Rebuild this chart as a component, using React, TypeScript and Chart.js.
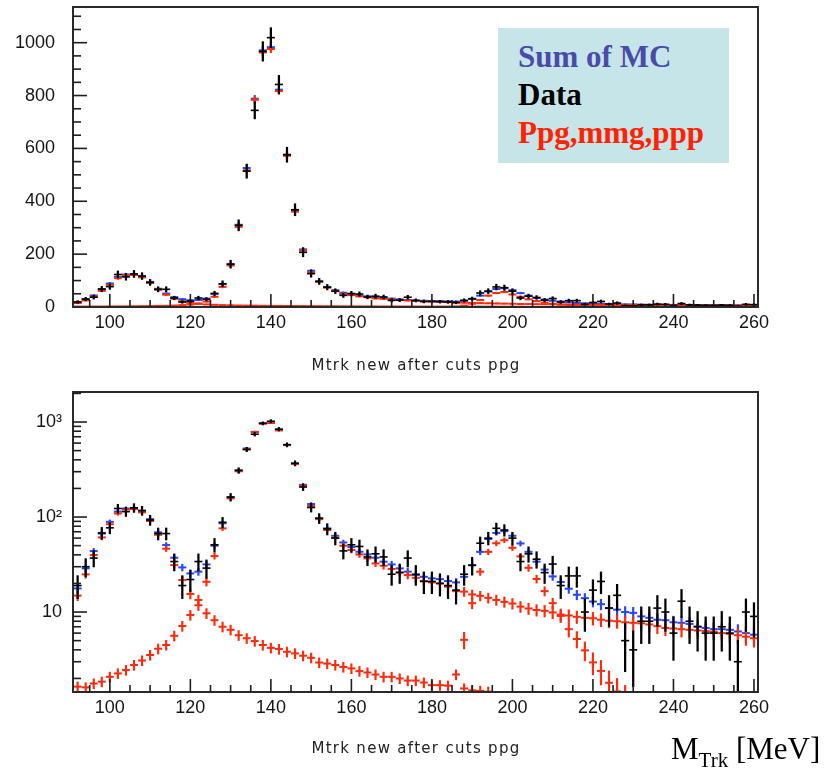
import React, { useEffect, useRef } from "react";
import { Chart, registerables } from "chart.js";

Chart.register(...registerables);

// Bin centres of the track-mass histograms (2 MeV bins, 91–261 MeV)
const binCenters = [
  92, 94, 96, 98, 100, 102, 104, 106, 108, 110, 112, 114, 116, 118, 120, 122, 124, 126, 128, 130,
  132, 134, 136, 138, 140, 142, 144, 146, 148, 150, 152, 154, 156, 158, 160, 162, 164, 166, 168, 170,
  172, 174, 176, 178, 180, 182, 184, 186, 188, 190, 192, 194, 196, 198, 200, 202, 204, 206, 208, 210,
  212, 214, 216, 218, 220, 222, 224, 226, 228, 230, 232, 234, 236, 238, 240, 242, 244, 246, 248, 250,
  252, 254, 256, 258, 260,
];

// Data (black)
const dataCounts = [
  19, 30, 37, 68, 77, 123, 114, 125, 117, 93, 67, 67, 34, 19, 22, 34, 29, 51, 88, 162,
  309, 514, 744, 967, 1019, 842, 576, 368, 207, 126, 97, 75, 60, 44, 51, 49, 38, 41, 38, 25,
  26, 37, 25, 21, 21, 20, 19, 17, 25, 31, 53, 60, 76, 73, 60, 34, 41, 36, 26, 32,
  19, 24, 24, 10, 17, 21, 11, 15, 5, 4, 8, 8, 11, 10, 6, 13, 8, 7, 6, 6,
  7, 6, 3, 10, 9,
];

// Sum of MC (blue)
const sumMC = [
  17.7, 28.8, 43.8, 67, 89, 114, 123, 123, 116, 95, 69, 50.7, 37.3, 29.5, 25.5, 26.6, 31.7, 50, 86, 162,
  311, 526, 788, 971, 983, 822, 576, 366, 218, 137, 97, 76, 63.5, 54, 48.3, 43.1, 40.4, 37.3, 33.9, 31.7,
  28.8, 26.6, 24.5, 23.5, 22.6, 22.2, 21.2, 20.5, 23.5, 31.2, 43, 58.7, 68, 71, 63.5, 52.7, 43, 33.9, 28, 23.7,
  20.7, 17.6, 15.2, 14.0, 12.9, 12.1, 11.0, 10.6, 10.0, 9.8, 9.0, 8.7, 8.3, 8.2, 7.8, 7.7, 7.5, 7.05, 6.8, 6.6,
  6.6, 6.5, 6.25, 6.0, 5.77,
];

// Ppg / mmg / ppp components (red)
const mcMain = [
  14.9, 24.9, 39.8, 61, 84, 109, 120, 121, 112, 91, 65, 46.4, 31.2, 21.7, 15.5, 13.4, 20.8, 38.8, 76, 157,
  303, 517, 784, 963, 976, 817, 572, 361, 214, 131, 95, 73, 60.6, 49.9, 45, 40.4, 36.7, 32.5, 30.7, 28.4,
  26.2, 24.5, 22.9, 21.2, 20.5, 20, 18.5, 16.6, 16.4, 15.3, 14.8, 14.1, 13.4, 12.8, 12.3, 11.4, 10.9, 10.5, 10.3, 9.9,
  9.4, 9.2, 8.9, 8.7, 8.6, 8.3, 8.1, 8.0, 7.8, 7.7, 7.6, 7.4, 7.1, 6.8, 6.7, 6.6, 6.5, 6.4, 6.3, 6.2,
  6.0, 5.9, 5.7, 5.5, 5.3,
];

const mcTail = [
  1.64, 1.61, 1.77, 1.85, 2.08, 2.26, 2.45, 2.77, 3.09, 3.53, 4.11, 4.5, 5.63, 7.12, 9.3, 11.8, 9.7, 8.2, 7.0, 6.5,
  5.7, 5.3, 4.95, 4.5, 4.2, 4.08, 3.82, 3.67, 3.47, 3.3, 2.94, 2.87, 2.77, 2.64, 2.55, 2.39, 2.31, 2.2, 2.08, 2.08,
  2.0, 1.9, 1.9, 1.81, 1.7, 1.7, 1.68, 2.2, 1.57, 1.5, 1.48, 1.45, 1.3, 1.2, 1.15, 1.1, null, null, null, null,
  null, null, null, null, null, null, null, null, null, null, null, null, null, null, null, null, null, null, null, null,
  null, null, null, null, null,
];

const mcBump = [
  null, null, null, null, null, null, null, null, null, null, null, null, null, null, null, null, null, null, null, null,
  null, null, null, null, null, null, null, null, null, null, null, null, null, null, null, null, null, null, null, null,
  null, null, null, null, null, null, null, null, 5.1, 12.4, 26.6, 43, 53, 57, 47.4, 38.5, 29.2, 22.3, 16.6, 12.4,
  9.1, 6.6, 5.2, 3.95, 2.95, 2.4, 1.8, 1.46, 1.2, 1.0, null, null, null, null, null, null, null, null, null, null,
  null, null, null, null, null,
];

const xLabelTicks = [100, 120, 140, 160, 180, 200, 220, 240, 260];
const linTickLabels = [0, 200, 400, 600, 800, 1000];
const logTickLabels = [10, 100, 1000];

const X_MIN = 90.85;
const X_MAX = 261;
const LIN_MAX = 1135;
const LOG_MIN = 1.44;
const LOG_MAX = 2070;
const HALF_BIN_PX = 4;

// Plot-frame geometry shared by the canvases and the tick overlay
const CANVAS_H = 345;
const AREA_LEFT = 73;
const AREA_RIGHT = 758;
const TOP_PANEL = { canvasTop: 0, areaTop: 7, axisHeight: 38 };
const LOG_PANEL = { canvasTop: 380, areaTop: 12, axisHeight: 33 };

const BLUE = "#2447ff";
const RED = "#ff2a0c";
const BLACK = "#000000";

type Val = number | null;

function crosses(values: Val[], err: (v: number) => number, color: string, order: number, vWidth: number, hWidth: number) {
  const bars: any[] = [];
  const pts: any[] = [];
  values.forEach((v, i) => {
    if (v == null) return;
    const e = err(v);
    bars.push({ x: binCenters[i], y: [Math.max(v - e, 0.05), v + e] });
    pts.push({ x: binCenters[i], y: v });
  });
  return [
    {
      type: "bar",
      data: bars,
      backgroundColor: color,
      borderWidth: 0,
      barThickness: vWidth,
      grouped: false,
      order,
    },
    {
      type: "line",
      data: pts,
      showLine: false,
      pointStyle: "line",
      pointRadius: HALF_BIN_PX,
      pointHoverRadius: HALF_BIN_PX,
      pointBorderColor: color,
      pointBackgroundColor: color,
      pointBorderWidth: hWidth,
      order,
    },
  ];
}

const dataErr = (v: number) => Math.sqrt(1.4 * v);
const mcErr = (v: number) => Math.sqrt(0.2 * v);
const tailErr = (v: number) => 0.12 * v;

// Tick positions for the inward ROOT-style tick marks
function xTickMarks() {
  const out: { v: number; len: number }[] = [];
  for (let t = 95; t <= 260; t += 5) out.push({ v: t, len: t % 20 === 0 ? 13 : 7 });
  return out;
}
function yTickMarks(isLog: boolean) {
  const out: { v: number; len: number }[] = [];
  if (isLog) {
    [1, 10, 100, 1000].forEach((dec) => {
      for (let m = 1; m <= 9; m++) out.push({ v: m * dec, len: m === 1 ? 14 : 8 });
    });
  } else {
    for (let v = 0; v <= 1100; v += 50) out.push({ v, len: v % 200 === 0 ? 14 : 8 });
  }
  return out;
}

const framePlugin = {
  id: "rootFrame",
  afterDraw(chart: any) {
    const ctx: CanvasRenderingContext2D = chart.ctx;
    const a = chart.chartArea;
    ctx.save();
    ctx.lineWidth = 2;
    ctx.strokeStyle = "#2a2a2a";
    ctx.strokeRect(a.left, a.top, a.right - a.left, a.bottom - a.top);
    ctx.restore();
  },
};

function makeConfig(log: boolean, areaTop: number, axisHeight: number) {
  const datasets = [
    ...crosses(sumMC, mcErr, BLUE, 3, 1.5, 2),
    ...crosses(mcMain, mcErr, RED, 2, 1.5, 2),
    ...crosses(mcTail, tailErr, RED, 2, 1.5, 2),
    ...crosses(mcBump, mcErr, RED, 2, 1.5, 2),
    ...crosses(dataCounts, dataErr, BLACK, 1, 1.6, 1.6),
  ];
  const tickFont = { family: "'Liberation Sans', Arial, sans-serif", size: 18 };
  const noPad = (s: any) => {
    s.paddingTop = 0;
    s.paddingBottom = 0;
    s.paddingLeft = 0;
    s.paddingRight = 0;
  };
  return {
    type: "bar",
    data: { datasets },
    plugins: [framePlugin],
    options: {
      animation: false,
      responsive: false,
      events: [],
      layout: { padding: { top: areaTop, right: 827 - AREA_RIGHT, left: 0, bottom: 0 } },
      plugins: {
        legend: { display: false },
        tooltip: { enabled: false },
      },
      scales: {
        x: {
          type: "linear",
          min: X_MIN,
          max: X_MAX,
          offset: false,
          grid: { display: false, drawTicks: false },
          border: { display: false },
          ticks: {
            font: tickFont,
            color: "#151515",
            padding: 5,
            maxRotation: 0,
            autoSkip: false,
            callback: (v: number) => String(v),
          },
          afterBuildTicks: (s: any) => {
            s.ticks = xLabelTicks.map((v) => ({ value: v }));
          },
          afterFit: (s: any) => {
            s.height = axisHeight;
            noPad(s);
          },
        },
        y: log
          ? {
              type: "logarithmic",
              min: LOG_MIN,
              max: LOG_MAX,
              grid: { display: false, drawTicks: false },
              border: { display: false },
              ticks: {
                font: tickFont,
                color: "#151515",
                padding: 11,
                autoSkip: false,
                callback: (v: number) => (v === 1000 ? "10³" : v === 100 ? "10²" : "10"),
              },
              afterBuildTicks: (s: any) => {
                s.ticks = logTickLabels.map((v) => ({ value: v }));
              },
              afterFit: (s: any) => {
                s.width = AREA_LEFT;
                noPad(s);
              },
            }
          : {
              type: "linear",
              min: 0,
              max: LIN_MAX,
              grid: { display: false, drawTicks: false },
              border: { display: false },
              ticks: {
                font: tickFont,
                color: "#151515",
                padding: 18,
                autoSkip: false,
                callback: (v: number) => String(v),
              },
              afterBuildTicks: (s: any) => {
                s.ticks = linTickLabels.map((v) => ({ value: v }));
              },
              afterFit: (s: any) => {
                s.width = AREA_LEFT;
                noPad(s);
              },
            },
      },
    },
  };
}

function HistPanel({ top, log, areaTop, axisHeight }: { top: number; log: boolean; areaTop: number; axisHeight: number }) {
  const ref = useRef<HTMLCanvasElement | null>(null);
  useEffect(() => {
    if (!ref.current) return;
    const chart = new Chart(ref.current, makeConfig(log, areaTop, axisHeight) as any);
    return () => chart.destroy();
  }, [log, areaTop, axisHeight]);
  return (
    <canvas
      ref={ref}
      width={827}
      height={CANVAS_H}
      style={{ position: "absolute", left: 0, top, width: 827, height: CANVAS_H }}
    />
  );
}

// Inward tick marks of one panel, laid over its plot frame
function TickMarks({ panel, log }: { panel: { canvasTop: number; areaTop: number; axisHeight: number }; log: boolean }) {
  const top = panel.canvasTop + panel.areaTop;
  const bottom = panel.canvasTop + CANVAS_H - panel.axisHeight;
  const w = AREA_RIGHT - AREA_LEFT;
  const h = bottom - top;
  const xPix = (v: number) => AREA_LEFT + ((v - X_MIN) / (X_MAX - X_MIN)) * w;
  const yPix = (v: number) =>
    log
      ? bottom - ((Math.log10(v) - Math.log10(LOG_MIN)) / (Math.log10(LOG_MAX) - Math.log10(LOG_MIN))) * h
      : bottom - (v / LIN_MAX) * h;
  const lines: React.ReactNode[] = [];
  xTickMarks().forEach((t, i) => {
    const px = xPix(t.v);
    lines.push(<line key={`x${i}`} x1={px} x2={px} y1={bottom} y2={bottom - t.len} />);
  });
  yTickMarks(log).forEach((t, i) => {
    const py = yPix(t.v);
    if (py < top + 1 || py > bottom - 1) return;
    lines.push(<line key={`y${i}`} x1={AREA_LEFT} x2={AREA_LEFT + t.len} y1={py} y2={py} />);
  });
  return <g>{lines}</g>;
}

const axisTitleStyle: React.CSSProperties = {
  position: "absolute",
  left: 0,
  width: 832,
  textAlign: "center",
  fontFamily: "'DejaVu Sans', sans-serif",
  fontSize: 15,
  letterSpacing: 1.3,
  color: "#222",
  lineHeight: "16px",
  whiteSpace: "nowrap",
};

const legendLine: React.CSSProperties = {
  position: "absolute",
  left: 20,
  fontFamily: "'Liberation Serif', 'Times New Roman', serif",
  fontWeight: "bold",
  fontSize: 31,
  lineHeight: "31px",
  whiteSpace: "nowrap",
};

export default function App() {
  return (
    <div style={{ position: "absolute", left: 0, top: 0, width: 827, height: 770, background: "#fff", overflow: "hidden" }}>
      <HistPanel top={TOP_PANEL.canvasTop} log={false} areaTop={TOP_PANEL.areaTop} axisHeight={TOP_PANEL.axisHeight} />
      <HistPanel top={LOG_PANEL.canvasTop} log={true} areaTop={LOG_PANEL.areaTop} axisHeight={LOG_PANEL.axisHeight} />

      <svg
        width={827}
        height={770}
        style={{ position: "absolute", left: 0, top: 0, pointerEvents: "none" }}
      >
        <g stroke="#1e1e1e" strokeWidth={1.6}>
          <TickMarks panel={TOP_PANEL} log={false} />
          <TickMarks panel={LOG_PANEL} log={true} />
        </g>
      </svg>

      <div style={{ position: "absolute", left: 498, top: 28, width: 231, height: 135, background: "#c6e5e8" }}>
        <div style={{ ...legendLine, top: 13, color: "#4a4aa8" }}>Sum of MC</div>
        <div style={{ ...legendLine, top: 51, color: "#000" }}>Data</div>
        <div style={{ ...legendLine, top: 89, color: "#ff2200" }}>Ppg,mmg,ppp</div>
      </div>

      <div style={{ ...axisTitleStyle, top: 357 }}>Mtrk new after cuts ppg</div>
      <div style={{ ...axisTitleStyle, top: 740 }}>Mtrk new after cuts ppg</div>

      <div
        style={{
          position: "absolute",
          left: 671,
          top: 734,
          fontFamily: "'Liberation Serif', 'Times New Roman', serif",
          fontSize: 31,
          lineHeight: "30px",
          color: "#000",
          whiteSpace: "nowrap",
        }}
      >
        M<span style={{ fontSize: 21, position: "relative", top: 8 }}>Trk</span> [MeV]
      </div>
    </div>
  );
}
